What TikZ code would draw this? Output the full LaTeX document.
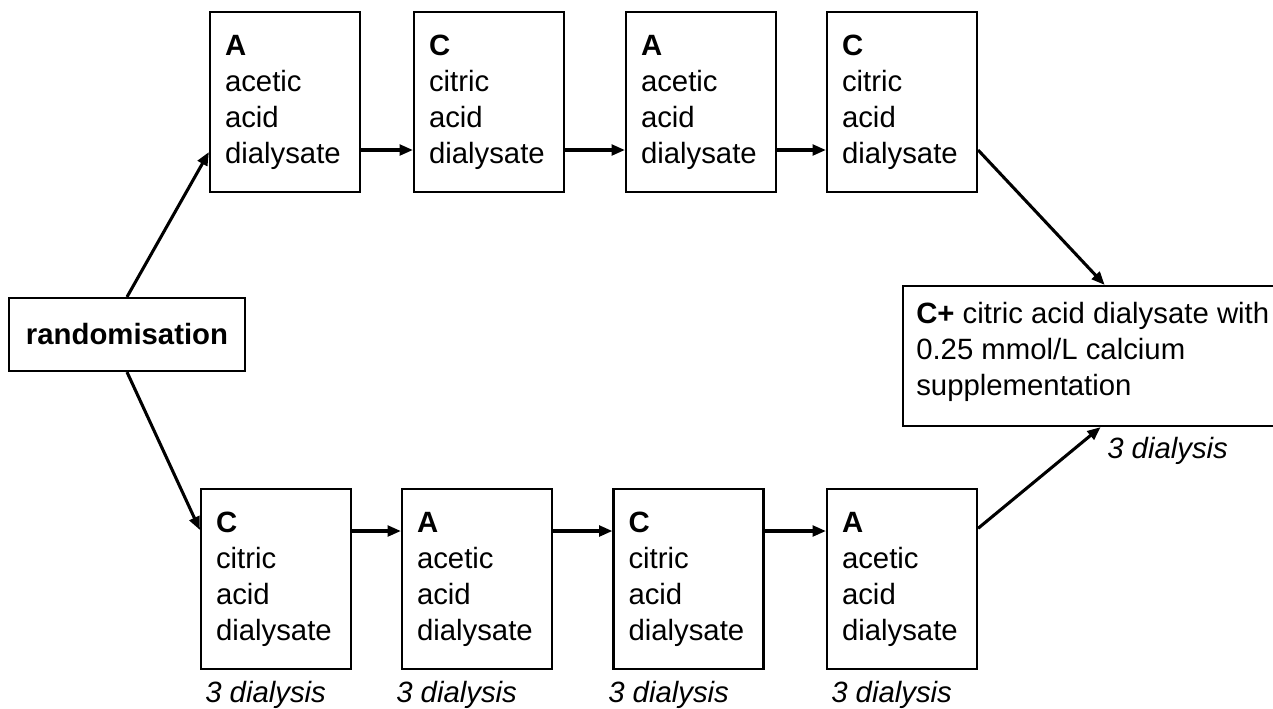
\documentclass[tikz,border=0pt]{standalone}
\usepackage{fontspec}
\setmainfont{Liberation Sans}
\usetikzlibrary{arrows.meta}
\tikzset{
  stepbox/.style={draw, line width=1.6pt, rectangle, minimum width=150*0.75pt, minimum height=180*0.75pt,
    text width=120*0.75pt, inner xsep=15*0.75pt, inner ysep=0pt, align=left,
    font=\fontsize{22}{27}\selectfont},
  flow/.style={line width=2.3pt, -{Triangle[length=10pt,width=8pt]}},
  lbl/.style={anchor=base west, inner sep=0pt, font=\fontsize{22}{27}\selectfont\itshape},
  plain/.style={inner sep=0pt, font=\fontsize{22}{27}\selectfont}
}
\begin{document}
\begin{tikzpicture}[x=0.75pt, y=-0.75pt]
\useasboundingbox (0,0) rectangle (1273,708);
% randomisation
\node[draw, line width=1.6pt, minimum width=236*0.75pt, minimum height=73*0.75pt, inner sep=0pt,
  font=\fontsize{22}{27}\selectfont\bfseries] (r) at (127,334.5) {randomisation};
% top row
\node[stepbox] (t1) at (285,102) {\textbf{A}\\acetic\\acid\\dialysate};
\node[stepbox] (t2) at (489,102) {\textbf{C}\\citric\\acid\\dialysate};
\node[stepbox] (t3) at (701,102) {\textbf{A}\\acetic\\acid\\dialysate};
\node[stepbox] (t4) at (902,102) {\textbf{C}\\citric\\acid\\dialysate};
% bottom row
\node[stepbox] (b1) at (276,579) {\textbf{C}\\citric\\acid\\dialysate};
\node[stepbox] (b2) at (477,579) {\textbf{A}\\acetic\\acid\\dialysate};
\node[stepbox] (b3) at (688.5,579) {\textbf{C}\\citric\\acid\\dialysate};
\node[stepbox] (b4) at (902,579) {\textbf{A}\\acetic\\acid\\dialysate};
% C+ box
\node[draw, line width=1.6pt, minimum width=374*0.75pt, minimum height=140*0.75pt, inner sep=0pt] (cp) at (1090,356) {};
\node[plain, anchor=north west, align=left] (cpt) at (916,302) {\textbf{C+} citric acid dialysate with\\0.25 mmol/L calcium\\supplementation};
% labels
\node[lbl] (l1) at (205,702) {3 dialysis};
\node[lbl] (l2) at (396,702) {3 dialysis};
\node[lbl] (l3) at (608,702) {3 dialysis};
\node[lbl] (l4) at (831,702) {3 dialysis};
\node[lbl] (l5) at (1107,458) {3 dialysis};
% connectors
\draw[flow] (r.north) -- ([yshift=-37.5pt]t1.west);
\draw[flow] (r.south) -- ([yshift=36.75pt]b1.west);
\draw[flow] ([yshift=-36pt]t1.east) -- ([yshift=-36pt]t2.west);
\draw[flow] ([yshift=-36pt]t2.east) -- ([yshift=-36pt]t3.west);
\draw[flow] ([yshift=-36pt]t3.east) -- ([yshift=-36pt]t4.west);
\draw[flow] ([yshift=36pt]b1.east) -- ([yshift=36pt]b2.west);
\draw[flow] ([yshift=36pt]b2.east) -- ([yshift=36pt]b3.west);
\draw[flow] ([yshift=36pt]b3.east) -- ([yshift=36pt]b4.west);
\draw[flow] ([yshift=-36pt]t4.east) -- ([xshift=11pt]cp.north);
\draw[flow] ([yshift=38pt]b4.east) -- ([xshift=8pt]cp.south);
\end{tikzpicture}
\end{document}
